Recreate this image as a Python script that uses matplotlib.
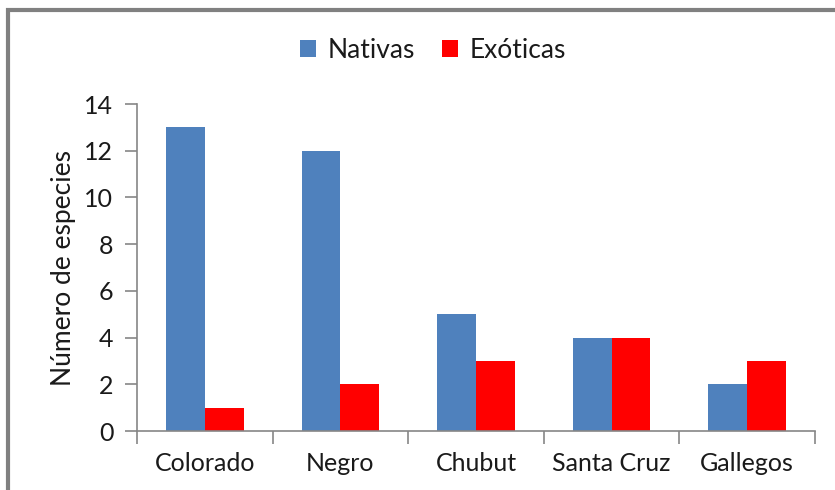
import numpy as np
import matplotlib.pyplot as plt
from matplotlib.patches import Rectangle

categories = ['Colorado', 'Negro', 'Chubut', 'Santa Cruz', 'Gallegos']
nativas = [13, 12, 5, 4, 2]
exoticas = [1, 2, 3, 4, 3]
yticks = [0, 2, 4, 6, 8, 10, 12, 14]

plt.rcParams['font.family'] = ['Lato', 'DejaVu Sans']

fig = plt.figure(figsize=(8.35, 4.9), dpi=100)
ax = fig.add_axes([137/835, 1 - 431/490, (815 - 137)/835, (431 - 104)/490])

x = np.arange(len(categories))
w = 1 / 3.5
ax.bar(x - w/2, nativas, w, color='#4F81BD', label='Nativas')
ax.bar(x + w/2, exoticas, w, color='#FF0000', label='Exóticas')

ax.set_xlim(-0.5, len(categories) - 0.5)
ax.set_ylim(0, 14)
ax.set_yticks(yticks)
ax.set_xticks(x)
ax.set_xticklabels(categories)
ax.set_xticks(np.arange(-0.5, len(categories)), minor=True)

grey = '#868686'
for s in ['top', 'right']:
    ax.spines[s].set_visible(False)
for s in ['left', 'bottom']:
    ax.spines[s].set_color(grey)
    ax.spines[s].set_linewidth(1.2)
ax.tick_params(axis='y', length=9, color=grey, width=1.2, labelsize=18, pad=8,
               labelcolor='#1a1a1a')
ax.tick_params(axis='x', which='major', length=0, labelsize=18, pad=15,
               labelcolor='#1a1a1a')
ax.tick_params(axis='x', which='minor', length=9, color=grey, width=1.2)
ax.set_ylabel('Número de especies', fontsize=19, labelpad=6, color='#1a1a1a')

fig.legend(loc='center', bbox_to_anchor=(433/835, 1 - 50/490), ncol=2, frameon=False,
           fontsize=19, handlelength=0.6, handleheight=0.6, handletextpad=0.45,
           columnspacing=1.0, labelcolor='#1a1a1a')

fig.patches.append(Rectangle((8/835, -0.1), 1.2, (480/490) + 0.1,
                             transform=fig.transFigure, fill=False,
                             edgecolor='#808080', linewidth=3))

fig.savefig('out.png', dpi=100)
